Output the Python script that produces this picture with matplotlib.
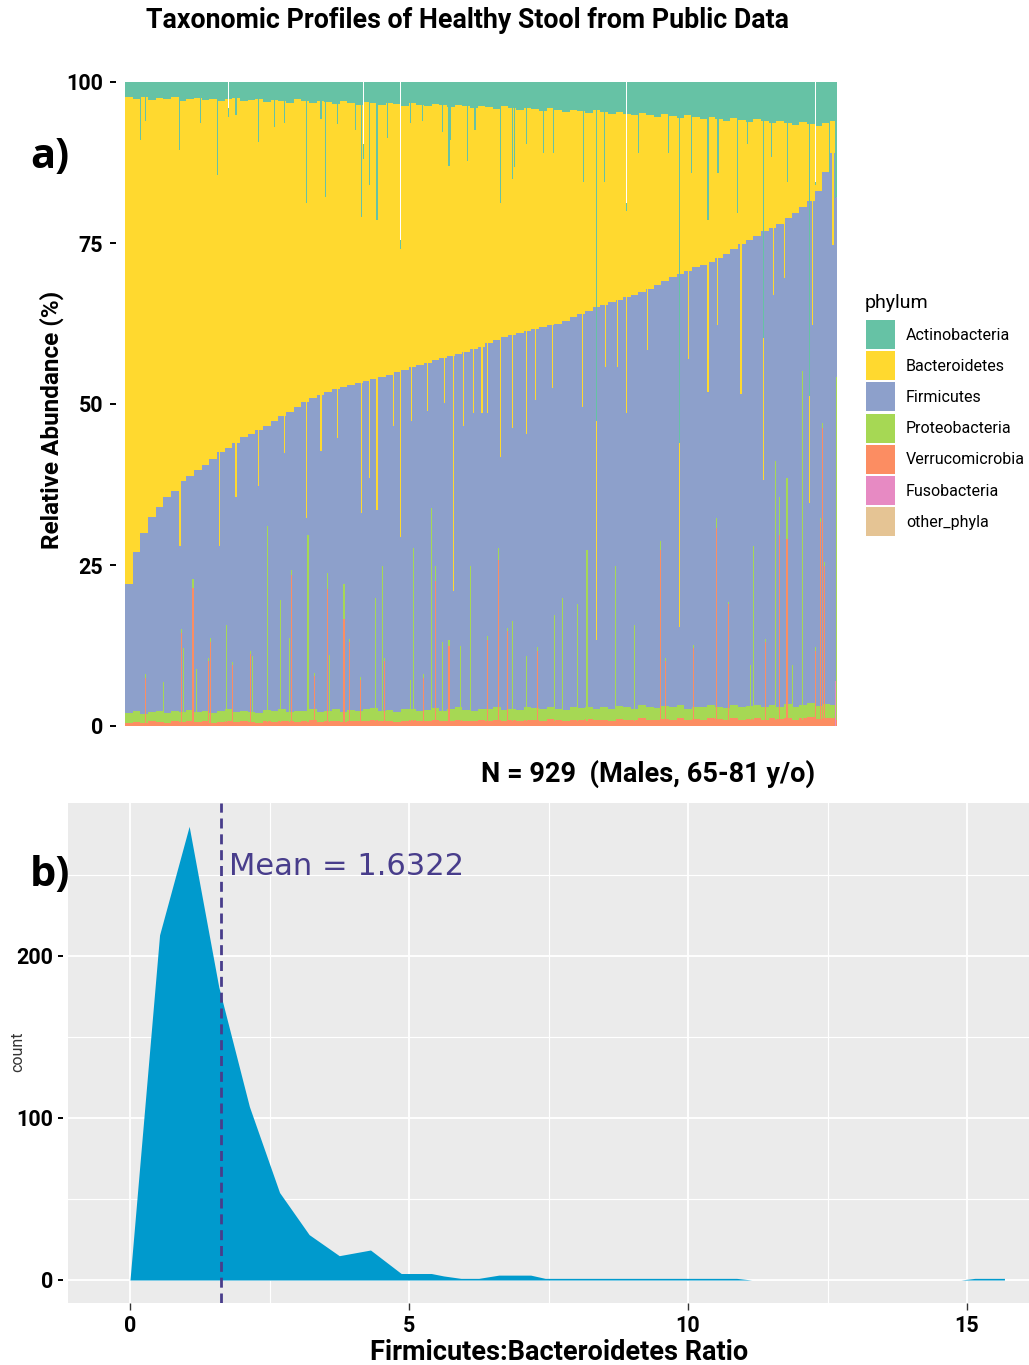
import numpy as np
import matplotlib.pyplot as plt
from matplotlib.patches import Rectangle

plt.rcParams['font.family'] = ['Roboto', 'DejaVu Sans']

W, H = 1029, 1365

phyla = ['Actinobacteria', 'Bacteroidetes', 'Firmicutes', 'Proteobacteria',
         'Verrucomicrobia', 'Fusobacteria', 'other_phyla']
phylum_colors = ['#66C2A5', '#FFD92F', '#8DA0CB', '#A6D854',
                 '#FC8D62', '#E78AC3', '#E5C494']
c_act, c_bac, c_fir, c_pro, c_ver, c_fus, c_oth = phylum_colors

n_samples = 929
block_size = 10

# --- panel a: samples grouped in blocks of 10 (sorted as in the figure) ---
# upper edge of each stacked layer, %
verru_top = [
    0.5, 0.6, 0.5, 0.7, 0.6, 0.5, 0.7, 0.6, 0.8, 0.6,
    0.7, 0.5, 0.6, 0.8, 0.6, 0.7, 0.6, 0.5, 0.7, 0.6,
    0.8, 0.7, 0.6, 0.7, 0.9, 0.6, 0.7, 0.8, 0.6, 0.7,
    0.8, 0.7, 0.9, 0.7, 0.8, 0.6, 0.8, 0.9, 0.7, 0.8,
    0.9, 0.7, 0.8, 1.0, 0.8, 0.7, 0.9, 0.8, 1.0, 0.8,
    0.9, 0.8, 1.0, 0.9, 0.8, 1.1, 0.9, 0.8, 1.0, 0.9,
    1.1, 0.9, 1.0, 0.8, 1.1, 1.0, 0.9, 1.2, 1.0, 0.9,
    1.1, 1.0, 1.2, 0.9, 1.1, 1.0, 1.2, 1.1, 0.9, 1.2,
    1.0, 1.1, 1.3, 1.0, 1.2, 1.1, 1.3, 1.0, 1.2, 1.4,
    1.1, 1.3, 1.2]
proteo_top = [
    2.0, 2.3, 1.9, 2.2, 2.4, 2.0, 2.3, 2.1, 2.5, 2.2,
    2.4, 2.0, 2.3, 2.6, 2.1, 2.4, 2.2, 2.0, 2.5, 2.3,
    2.6, 2.2, 2.4, 2.3, 2.7, 2.1, 2.4, 2.6, 2.2, 2.5,
    2.3, 2.6, 2.8, 2.4, 2.5, 2.2, 2.6, 2.7, 2.3, 2.5,
    2.8, 2.4, 2.6, 2.9, 2.5, 2.3, 2.7, 2.6, 2.9, 2.5,
    2.7, 2.5, 2.9, 2.8, 2.6, 3.0, 2.7, 2.5, 2.9, 2.8,
    3.0, 2.7, 2.9, 2.6, 3.1, 2.9, 2.7, 3.2, 2.9, 2.8,
    3.1, 2.9, 3.2, 2.7, 3.0, 2.9, 3.2, 3.0, 2.8, 3.3,
    2.9, 3.1, 3.3, 2.9, 3.2, 3.0, 3.4, 2.9, 3.2, 3.5,
    3.1, 3.4, 3.2]
firm_top = [
    22.0, 27.0, 30.0, 32.5, 34.0, 35.5, 36.5, 38.0, 38.8, 39.8,
    40.5, 41.5, 42.5, 43.2, 44.0, 44.8, 45.3, 46.0, 46.6, 47.4,
    48.1, 48.8, 49.6, 50.3, 50.9, 51.4, 51.9, 52.3, 52.7, 53.0,
    53.3, 53.6, 53.9, 54.2, 54.5, 54.9, 55.3, 55.7, 56.1, 56.4,
    56.8, 57.1, 57.4, 57.7, 58.1, 58.5, 58.9, 59.5, 60.0, 60.4,
    60.7, 61.0, 61.3, 61.6, 61.9, 62.2, 62.5, 62.9, 63.5, 64.0,
    64.5, 65.0, 65.4, 65.8, 66.2, 66.6, 67.0, 67.4, 67.9, 68.5,
    69.1, 69.7, 70.2, 70.7, 71.2, 71.6, 72.0, 72.6, 73.3, 74.1,
    74.8, 75.5, 76.1, 76.8, 77.4, 78.0, 78.9, 79.7, 80.6, 81.5,
    83.0, 86.0, 89.0]
actino = [
    2.4, 2.6, 2.3, 2.8, 2.5, 2.7, 2.4, 2.9, 2.6, 2.5,
    2.8, 2.6, 3.0, 2.7, 2.5, 2.9, 2.8, 2.6, 3.1, 2.8,
    2.9, 3.2, 2.7, 3.0, 3.3, 2.9, 3.1, 3.4, 3.0, 3.2,
    3.5, 3.1, 3.3, 3.6, 3.2, 3.4, 3.7, 3.3, 3.5, 3.8,
    3.4, 3.6, 3.9, 3.5, 3.8, 4.1, 3.7, 3.9, 4.2, 3.8,
    4.1, 4.4, 4.0, 4.2, 4.5, 4.1, 4.4, 4.7, 4.3, 4.5,
    4.8, 4.4, 4.7, 5.0, 4.6, 4.9, 5.2, 4.8, 5.1, 5.4,
    5.0, 5.3, 5.6, 5.2, 5.5, 5.8, 5.4, 5.7, 6.0, 5.6,
    5.9, 6.2, 5.8, 6.1, 6.4, 6.0, 6.3, 6.6, 6.2, 6.5,
    6.8, 6.4, 6.0]

# single samples that stand out as thin spikes
# Actinobacteria reaching down to this level
teal_idx = [20, 26, 70, 98, 120, 134, 144, 173, 194, 207,
            236, 255, 261, 276, 300, 308, 310, 318, 328, 342,
            359, 372, 387, 413, 422, 424, 446, 456, 489, 505,
            507, 523, 545, 558, 597, 615, 625, 654, 669, 708,
            723, 738, 760, 773, 798, 812, 832, 843, 864, 892,
            900, 919, 926, 928]
teal_from = [91.0, 93.9, 89.4, 93.6, 85.5, 94.5, 94.9, 90.7, 93.0, 93.6,
             81.2, 94.3, 82.2, 93.5, 92.5, 79.0, 88.0, 84.0, 78.6, 91.3,
             74.0, 93.6, 94.0, 92.3, 87.0, 91.0, 87.7, 92.5, 81.2, 85.0,
             86.8, 90.3, 89.0, 89.0, 84.5, 47.3, 84.5, 80.0, 89.0, 89.0,
             44.0, 85.8, 78.6, 85.8, 79.6, 90.3, 60.3, 88.4, 84.5, 51.2,
             84.0, 85.8, 82.0, 82.2]
# Firmicutes ending low, Bacteroidetes reaching down to this level
dip_idx = [71, 122, 144, 173, 207, 236, 255, 277, 308, 318,
           328, 350, 359, 373, 394, 416, 428, 441, 454, 465,
           472, 489, 505, 523, 535, 557, 596, 615, 626, 642,
           654, 681, 723, 735, 760, 772, 803, 832, 845, 860,
           892, 896, 923]
dip_to = [28.0, 28.0, 35.6, 37.2, 42.4, 32.3, 42.7, 44.7, 33.0, 38.5,
          33.6, 46.6, 29.4, 47.3, 48.9, 50.2, 20.9, 46.6, 48.6, 48.6,
          48.6, 41.7, 46.3, 45.3, 50.6, 52.5, 49.6, 13.4, 55.8, 55.8,
          48.6, 58.4, 15.3, 57.0, 51.9, 62.3, 51.5, 38.2, 66.9, 69.5,
          34.6, 62.3, 74.7]
# Verrucomicrobia / Proteobacteria spikes from the bottom (upper edges)
low_idx = [26, 50, 73, 76, 88, 93, 108, 111, 132, 140,
           163, 166, 185, 202, 214, 217, 238, 247, 263, 266,
           285, 292, 307, 326, 335, 338, 372, 376, 389, 399,
           404, 413, 422, 437, 450, 472, 487, 498, 505, 523,
           538, 560, 570, 590, 602, 639, 664, 698, 704, 741,
           771, 787, 815, 819, 835, 848, 853, 863, 870, 883,
           900, 907, 909, 912, 928]
low_verru = [7.5, 0.6, 14.4, 0.6, 21.5, 0.6, 10.1, 13.0, 0.6, 9.5,
             11.2, 0.6, 0.6, 0.6, 0.6, 23.5, 0.6, 7.8, 21.2, 0.6,
             16.6, 13.0, 7.2, 0.8, 0.8, 10.1, 0.8, 0.8, 7.5, 0.8,
             22.5, 0.8, 12.4, 0.8, 0.8, 13.4, 25.8, 14.7, 0.8, 0.8,
             11.7, 0.8, 0.8, 0.8, 0.8, 0.8, 0.8, 27.4, 10.1, 12.1,
             30.7, 18.9, 1.0, 1.0, 13.0, 1.0, 29.7, 29.0, 1.0, 1.0,
             11.7, 31.6, 46.3, 24.8, 1.0]
low_proteo = [8.0, 6.8, 15.0, 12.1, 22.8, 8.8, 10.6, 13.6, 15.7, 10.0,
              11.7, 10.8, 31.0, 19.6, 13.7, 24.3, 29.7, 8.3, 23.8, 11.1,
              22.0, 13.5, 7.6, 19.9, 24.8, 10.6, 7.2, 27.7, 8.0, 33.9,
              24.8, 13.0, 13.4, 12.4, 24.8, 14.0, 27.7, 15.2, 16.3, 10.8,
              12.2, 17.3, 19.9, 18.9, 27.4, 24.8, 15.7, 28.7, 10.6, 12.6,
              32.3, 19.2, 9.5, 28.0, 13.5, 41.1, 35.6, 38.5, 9.5, 55.1,
              12.2, 32.3, 47.0, 25.5, 54.2]
fuso_idx = [926]
fuso_top = [7.0]
# samples whose total stays below 100 (white gap above)
gap_idx = [134, 310, 359, 654, 900]
gap_total = [95.9, 90.3, 75.5, 81.2, 84.5]

# --- panel b: frequency polygon of the F:B ratio ---
fb_ratio = [0.0, 0.53, 1.06, 1.59, 2.14, 2.68, 3.21, 3.75, 4.31, 4.86,
            5.40, 5.62, 5.93, 6.25, 6.61, 7.18, 7.44, 10.87, 11.14]
fb_count = [0, 213, 280, 181, 107, 54, 28, 15, 18.5, 4,
            4, 2.5, 1, 1, 3, 3, 1, 1, 0]
fb_tail_ratio = [14.89, 15.14, 15.67]
fb_tail_count = [0, 1, 1]
fb_mean = 1.6322


def fx(px):
    return px / W


def fy(py):
    return 1 - py / H


fig = plt.figure(figsize=(W / 100, H / 100), dpi=100)

# ---------------- panel a ----------------
ax = fig.add_axes([fx(125), fy(726), 712 / W, 644 / H])
starts = np.arange(0, n_samples, block_size)
widths = np.minimum(block_size, n_samples - starts)
v_top = np.array(verru_top)
p_top = np.array(proteo_top)
f_top = np.array(firm_top)
b_top = 100 - np.array(actino)
layers = [(np.zeros_like(v_top), v_top, c_ver),
          (v_top, p_top, c_pro),
          (p_top, f_top, c_fir),
          (f_top, b_top, c_bac),
          (b_top, np.full_like(b_top, 100.0), c_act)]
for lo, hi, col in layers:
    ax.bar(starts, hi - lo, bottom=lo, width=widths, align='edge',
           color=col, linewidth=0, antialiased=False)

sw = 1.5  # spike width in samples (about one pixel)
lv = np.array(low_verru)
lp = np.array(low_proteo)
ax.bar(low_idx, lv, width=sw, align='edge', color=c_ver, linewidth=0)
ax.bar(low_idx, lp - lv, bottom=lv, width=sw, align='edge', color=c_pro, linewidth=0)
ax.bar(fuso_idx, fuso_top, width=sw, align='edge', color=c_fus, linewidth=0)

d_to = np.array(dip_to)
d_up = f_top[np.array(dip_idx) // block_size]
ax.bar(dip_idx, d_up - d_to, bottom=d_to, width=sw, align='edge',
       color=c_bac, linewidth=0)

t_from = np.array(teal_from)
ax.bar(teal_idx, 100 - t_from, bottom=t_from, width=sw, align='edge',
       color=c_act, linewidth=0)

g_tot = np.array(gap_total)
ax.bar(gap_idx, 100 - g_tot, bottom=g_tot, width=sw, align='edge',
       color='white', linewidth=0)

ax.set_xlim(0, n_samples)
ax.set_ylim(0, 100)
for s in ax.spines.values():
    s.set_visible(False)
ax.spines['left'].set_position(('outward', 6.5))
ax.set_xticks([])
ax.set_yticks([0, 25, 50, 75, 100])
ax.tick_params(axis='y', length=4.3, width=1.4, color='black', pad=5.0,
               labelsize=15.5)
for lab in ax.get_yticklabels():
    lab.set_fontweight('bold')

fig.text(fx(52), fy(420), 'Relative Abundance (%)', rotation=90,
         ha='center', va='center', fontsize=17.5, fontweight='bold')
fig.text(fx(50), fy(157), 'a)', ha='center', va='center', fontsize=30,
         fontweight='bold', family=['Open Sans', 'DejaVu Sans'])
fig.text(fx(467), fy(21), 'Taxonomic Profiles of Healthy Stool from Public Data',
         ha='center', va='center', fontsize=19.3, fontweight='bold')
fig.text(fx(648), fy(774), 'N = 929  (Males, 65-81 y/o)', ha='center',
         va='center', fontsize=19.5, fontweight='bold')

# legend (ggplot style keys)
fig.text(fx(865), fy(303), 'phylum', ha='left', va='center', fontsize=14)
for i, (name, col) in enumerate(zip(phyla, phylum_colors)):
    top = 320 + 31.2 * i
    fig.add_artist(Rectangle((fx(866), fy(top + 29)), 29 / W, 29 / H,
                             transform=fig.transFigure, facecolor=col,
                             edgecolor='none'))
    fig.text(fx(906), fy(top + 15), name, ha='left', va='center', fontsize=11.5)

# ---------------- panel b ----------------
bx = fig.add_axes([fx(68), fy(1303), 961 / W, 500 / H])
bx.set_facecolor('#EBEBEB')
bx.set_xlim(-1.111, 16.11)
bx.set_ylim(-14.2, 294.4)
bx.set_xticks([0, 5, 10, 15])
bx.set_xticks([2.5, 7.5, 12.5], minor=True)
bx.set_yticks([0, 100, 200])
bx.set_yticks([50, 150, 250], minor=True)
bx.grid(which='major', color='white', linewidth=1.3)
bx.grid(which='minor', color='white', linewidth=0.8)
bx.set_axisbelow(True)
for s in bx.spines.values():
    s.set_visible(False)
bx.spines['left'].set_position(('outward', 3.6))

bx.fill_between(fb_ratio, fb_count, color='#009ACD', linewidth=0, zorder=2)
bx.fill_between(fb_tail_ratio, fb_tail_count, color='#009ACD', linewidth=0, zorder=2)
bx.axvline(fb_mean, color='#483D8B', linestyle=(0, (3.6, 2.1)), linewidth=2.0, zorder=3)
bx.text(1.774, 255, 'Mean = %.4f' % fb_mean, color='#483D8B', fontsize=22,
        family=['DejaVu Sans'], va='center', ha='left', zorder=4)

bx.tick_params(axis='y', which='major', length=3.6, width=1.4, color='black',
               pad=3.6, labelsize=15.5)
bx.tick_params(axis='x', which='major', length=5, width=1.0, color='#333333',
               pad=4, labelsize=15.5)
bx.tick_params(which='minor', length=0)
for lab in bx.get_yticklabels() + bx.get_xticklabels():
    lab.set_fontweight('bold')

fig.text(fx(18), fy(1052), 'count', rotation=90, ha='center', va='center',
         fontsize=11.5, color='#333333')
fig.text(fx(50), fy(876), 'b)', ha='center', va='center', fontsize=30,
         fontweight='bold', family=['Open Sans', 'DejaVu Sans'])
fig.text(fx(559), fy(1352), 'Firmicutes:Bacteroidetes Ratio', ha='center',
         va='center', fontsize=19.5, fontweight='bold')

fig.savefig('out.png', dpi=100)
